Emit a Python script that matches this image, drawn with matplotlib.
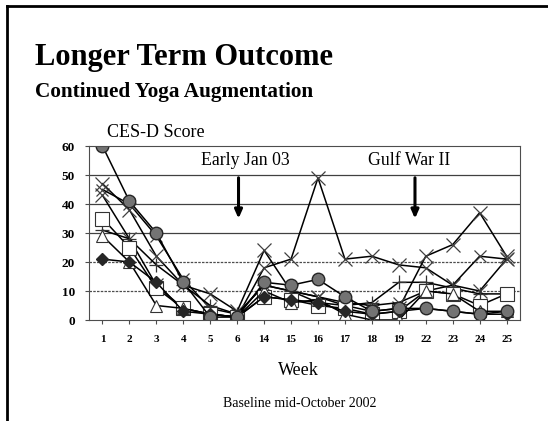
import numpy as np
import matplotlib
matplotlib.use('Agg')
import matplotlib.pyplot as plt
from matplotlib.lines import Line2D

# *****************************************
# data
weeks = ['1', '2', '3', '4', '5', '6', '14', '15', '16', '17', '18', '19', '22', '23', '24', '25']
circle_pt = [60, 41, 30, 13, 1, 1, 13, 12, 14, 8, 3, 4, 4, 3, 2, 3]
diamond_pt = [21, 20, 13, 3, 2, 1, 8, 7, 6, 3, 2, 3, 4, 3, 2, 2]
cross_spike = [43, 28, 12, 4, 2, 1, 18, 21, 49, 21, 22, 19, 18, 12, 10, 21]
cross_late = [47, 38, 22, 12, 9, 3, 24, 10, 8, 5, 3, 4, 22, 26, 37, 22]
cross_third = [45, 40, 29, 14, 4, 2, 12, 10, 8, 6, 5, 6, 10, 12, 22, 21]
plus_pt = [31, 28, 19, 12, 5, 2, 12, 10, 6, 5, 6, 13, 13, 11, 9, 9]
square_pt = [35, 25, 11, 4, 2, 1, 8, 7, 5, 4, 2, 3, 10, 9, 5, 9]
triangle_pt = [29, 20, 5, 4, 2, 1, 10, 6, 7, 2, 0, 0, 10, 9, 3, 3]
# *****************************************

serif = ['Liberation Serif', 'DejaVu Serif']
plt.rcParams['font.family'] = serif

fig = plt.figure(figsize=(5.48, 4.21), dpi=100)
ax = fig.add_axes([0.1624, 0.2399, 0.7866, 0.4133])

x = np.arange(len(weeks))
lk = dict(color='black', lw=1.1)
ax.plot(x, cross_spike, marker='x', ms=10, mew=0.9, mec='0.25', **lk)
ax.plot(x, cross_late, marker='x', ms=10, mew=0.9, mec='0.25', **lk)
ax.plot(x, cross_third, marker='x', ms=9, mew=0.9, mec='0.25', **lk)
ax.plot(x, plus_pt, marker='+', ms=10, mew=0.9, mec='0.2', **lk)
ax.plot(x, square_pt, marker='s', ms=10, mfc='white', mec='0.2', mew=0.8, **lk)
ax.plot(x, triangle_pt, marker='^', ms=9, mfc='white', mec='0.2', mew=0.8, **lk)
ax.plot(x, diamond_pt, marker='D', ms=6.5, mfc='0.15', mec='0.15', **lk)
ax.plot(x, circle_pt, marker='o', ms=9, mfc='0.45', mec='0.15', mew=1.0, **lk)

ax.set_xlim(-0.5, len(weeks) - 0.5)
ax.set_ylim(0, 60)
ax.set_yticks(range(0, 61, 10))
ax.set_xticks(x)
ax.set_xticklabels(weeks)
for yy in range(10, 60, 10):
    if yy < 30:
        ax.axhline(yy, color='0.3', lw=0.9, ls=(0, (2, 1)), zorder=0)
    else:
        ax.axhline(yy, color='0.25', lw=0.9, zorder=0)
for s in ax.spines.values():
    s.set_color('0.3')
    s.set_linewidth(0.8)
ax.spines['top'].set_linestyle((0, (2, 1)))
ax.tick_params(axis='x', labelsize=8, length=3, width=0.8, color='0.3', pad=8)
ax.tick_params(axis='y', labelsize=9.5, length=3, width=0.8, color='0.3', pad=7)
for t in ax.get_xticklabels() + ax.get_yticklabels():
    t.set_fontweight('bold')

# event markers
ax.annotate('', xy=(5.05, 34), xytext=(5.05, 50),
            arrowprops=dict(arrowstyle='-|>,head_width=0.22,head_length=0.5', color='black', lw=2.2))
ax.text(5.3, 55, 'Early Jan 03', ha='center', va='center', fontsize=12.8)
ax.annotate('', xy=(11.6, 34), xytext=(11.6, 50),
            arrowprops=dict(arrowstyle='-|>,head_width=0.22,head_length=0.5', color='black', lw=2.2))
ax.text(11.4, 55, 'Gulf War II', ha='center', va='center', fontsize=12.8)

fig.text(0.064, 0.846, 'Longer Term Outcome', fontsize=22, fontweight='bold', ha='left', va='baseline')
fig.text(0.064, 0.770, 'Continued Yoga Augmentation', fontsize=15.3, fontweight='bold', ha='left', va='baseline')
fig.text(0.195, 0.675, 'CES-D Score', fontsize=13, ha='left', va='baseline')
fig.text(0.545, 0.110, 'Week', fontsize=13, ha='center', va='baseline')
fig.text(0.547, 0.033, 'Baseline mid-October 2002', fontsize=10, ha='center', va='baseline')

# slide frame
fig.add_artist(Line2D([0.013, 1.0], [0.986, 0.986], color='black', lw=2.0))
fig.add_artist(Line2D([0.013, 0.013], [0.0, 0.986], color='black', lw=2.0))

fig.savefig('out.png', dpi=100)
